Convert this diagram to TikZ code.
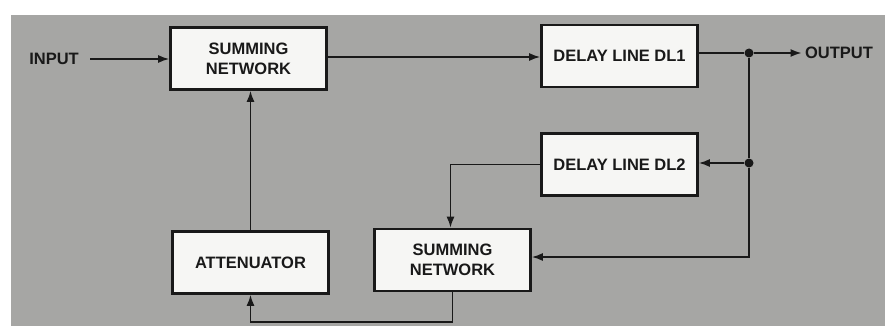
\documentclass[tikz,border=0pt]{standalone}
\usepackage{fontspec}
\setmainfont{Liberation Sans}
\usetikzlibrary{arrows.meta, positioning}

\definecolor{panelgray}{RGB}{166,166,164}
\definecolor{boxwhite}{RGB}{246,246,244}
\definecolor{ink}{RGB}{25,25,25}

\tikzset{
    blk/.style={rectangle, draw=ink, line width=2.6pt, fill=boxwhite, minimum width=156pt, minimum height=62pt, align=center, font=\bfseries\fontsize{16.5}{20}\selectfont, text=ink},
    lbl/.style={font=\bfseries\fontsize{16.5}{20}\selectfont, text=ink},
    wire/.style={draw=ink, line width=1.7pt},
    arr/.style={wire, -{Latex[length=11pt, width=8pt]}},
    dot/.style={circle, fill=ink, inner sep=0pt, minimum size=9pt}
}

\begin{document}
\begin{tikzpicture}[x=1pt, y=-1pt]
        \useasboundingbox (0,0) rectangle (885,326);
        \fill [panelgray] (11,15) rectangle (885,326); % grey panel

        % blocks
        \node [blk] (sumA) at (248.5,58.5) {SUMMING\\NETWORK};
        \node [blk] (dlA)  at (619.5,56) {DELAY LINE DL1};
        \node [blk] (dlB)  at (619.5,164.5) {DELAY LINE DL2};
        \node [blk] (sumB) at (452.5,260) {SUMMING\\NETWORK};
        \node [blk] (att)  at (250.5,262.5) {ATTENUATOR};

        % terminals
        \node [lbl] (inp) at (54,59) {INPUT};
        \node [lbl] (outp) at (839,53) {OUTPUT};

        % junctions
        \node [dot] (jA) at (749,53) {};
        \node [dot] (jB) at (749,163) {};

        % connectors
        \draw [arr] (inp.east) ++(8,0) -- (sumA.west |- inp.east);
        \draw [arr] (sumA.east |- 0,57) -- (dlA.west |- 0,57);
        \draw [wire] (dlA.east |- jA) -- (jA);
        \draw [arr] (jA) -- (outp.west);
        \draw [wire] (jA) -- (jB);
        \draw [arr] (jB) -- (dlB.east |- jB);
        \draw [arr] (jB) |- (sumB.east |- 0,257);
        \draw [arr] (dlB.west) -| ([xshift=-2pt]sumB.north);
        \draw [arr] (sumB.south) -- ++(0,30) -| (att.south);
        \draw [arr] (att.north) -- (sumA.south -| att.north);
    \end{tikzpicture}
\end{document}
